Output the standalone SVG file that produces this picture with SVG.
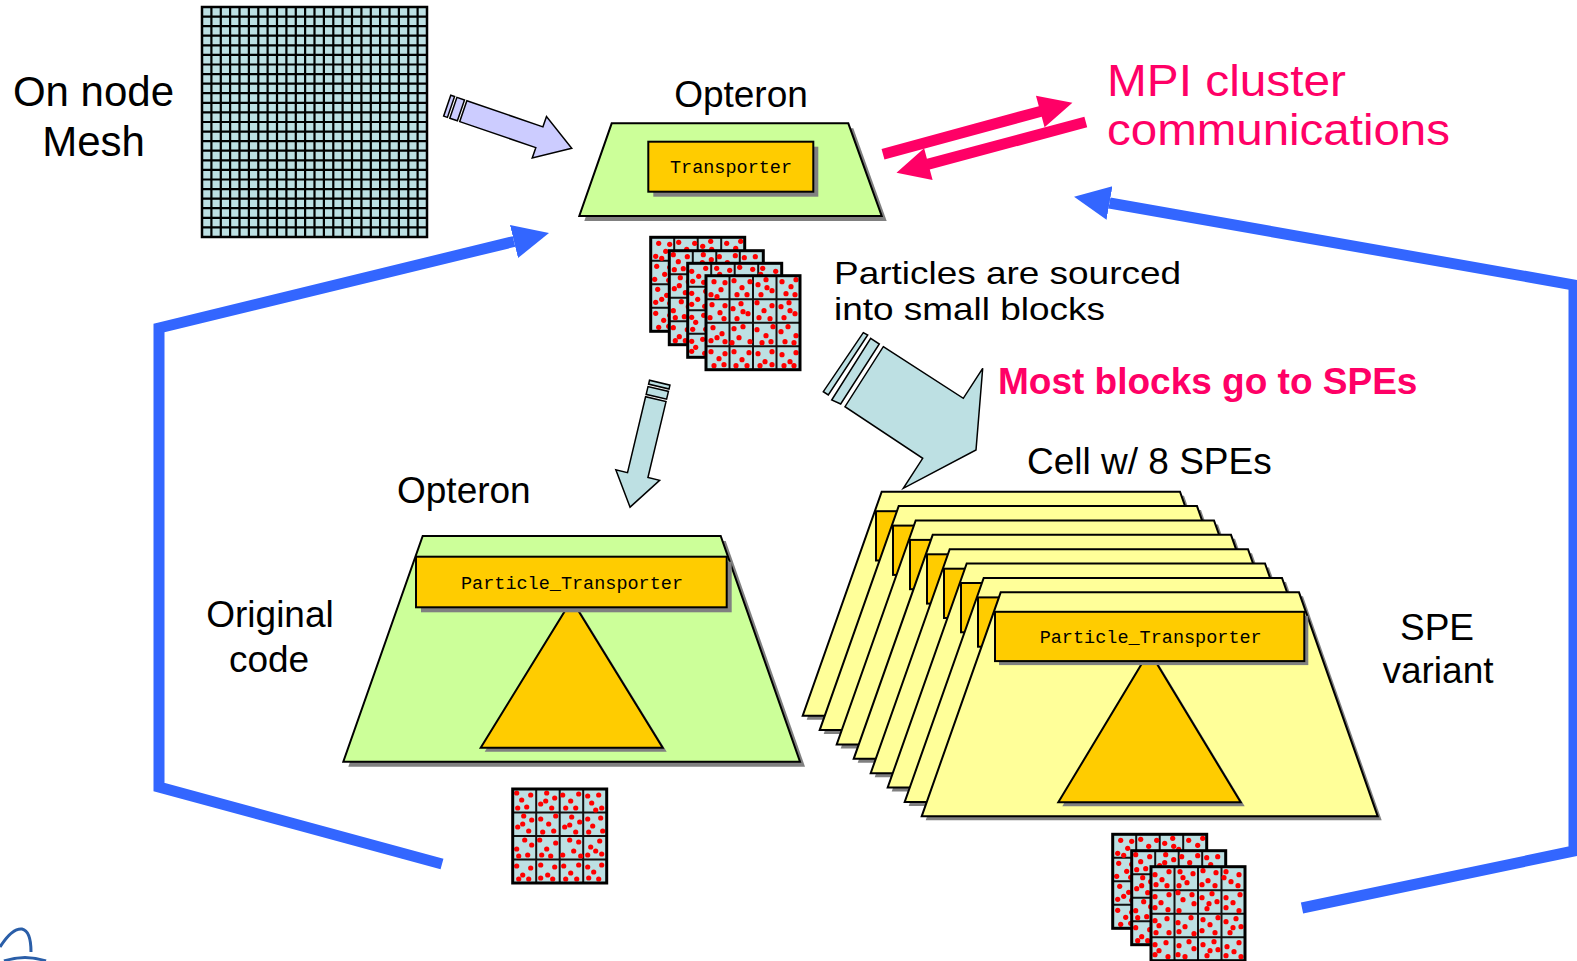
<svg xmlns="http://www.w3.org/2000/svg" xmlns:xlink="http://www.w3.org/1999/xlink" width="1577" height="961" viewBox="0 0 1577 961">
  <style>
    .lbl { font-family: "Liberation Sans", Arial, sans-serif; fill: #000; }
    .pink { font-family: "Liberation Sans", Arial, sans-serif; fill: #ff0066; }
    .mono { font-family: "Liberation Mono", "Courier New", monospace; font-size: 18.5px; fill: #000; text-anchor: middle; }
    .shadow { fill: #808080; }
    .edge { stroke: #000; stroke-width: 2; stroke-linejoin: miter; }
    .green { fill: #ccff99; }
    .yellow { fill: #ffff99; }
    .orange { fill: #ffcc00; }
    .cyan { fill: #bde0e3; }
    .loop { fill: none; stroke: #3366ff; stroke-width: 11; stroke-linejoin: miter; stroke-miterlimit: 10; }
    .fat { stroke: #000; stroke-width: 1.5; stroke-linejoin: miter; }
    .d circle { fill: #ff0000; }
  </style>
  <defs>
    <marker id="bluehead" markerUnits="userSpaceOnUse" markerWidth="40" markerHeight="40" viewBox="0 -20 40 40" refX="0" refY="0" orient="auto">
      <path d="M0,-17 L36,0 L0,17 z" fill="#3366ff"/>
    </marker>

    <!-- one 4x4 block of particles -->
    <g id="pblk">
      <rect width="94" height="94" class="cyan"/>
      <path d="M23.5,0V94M47,0V94M70.5,0V94M0,23.5H94M0,47H94M0,70.5H94" stroke="#111" stroke-width="2" fill="none"/>
      <g class="d">
        <circle cx="8" cy="6" r="2.6"/><circle cx="15" cy="14" r="2.6"/><circle cx="5" cy="19" r="2.6"/><circle cx="19" cy="7" r="2.6"/><circle cx="11" cy="21" r="2.6"/>
        <circle cx="28" cy="5" r="2.6"/><circle cx="36" cy="12" r="2.6"/><circle cx="44" cy="6" r="2.6"/><circle cx="31" cy="19" r="2.6"/><circle cx="41" cy="19" r="2.6"/>
        <circle cx="52" cy="9" r="2.6"/><circle cx="60" cy="4" r="2.6"/><circle cx="66" cy="15" r="2.6"/><circle cx="55" cy="19" r="2.6"/><circle cx="61" cy="12" r="2.6"/>
        <circle cx="76" cy="6" r="2.6"/><circle cx="85" cy="11" r="2.6"/><circle cx="90" cy="4" r="2.6"/><circle cx="80" cy="18" r="2.6"/><circle cx="89" cy="19" r="2.6"/>
        <circle cx="6" cy="29" r="2.6"/><circle cx="14" cy="37" r="2.6"/><circle cx="4" cy="42" r="2.6"/><circle cx="19" cy="30" r="2.6"/><circle cx="18" cy="43" r="2.6"/>
        <circle cx="27" cy="33" r="2.6"/><circle cx="35" cy="28" r="2.6"/><circle cx="42" cy="38" r="2.6"/><circle cx="31" cy="43" r="2.6"/><circle cx="37" cy="36" r="2.6"/>
        <circle cx="51" cy="27" r="2.6"/><circle cx="58" cy="35" r="2.6"/><circle cx="66" cy="30" r="2.6"/><circle cx="53" cy="42" r="2.6"/><circle cx="64" cy="43" r="2.6"/>
        <circle cx="75" cy="31" r="2.6"/><circle cx="83" cy="27" r="2.6"/><circle cx="89" cy="38" r="2.6"/><circle cx="78" cy="42" r="2.6"/><circle cx="84" cy="35" r="2.6"/>
        <circle cx="7" cy="52" r="2.6"/><circle cx="16" cy="58" r="2.6"/><circle cx="5" cy="65" r="2.6"/><circle cx="19" cy="66" r="2.6"/><circle cx="11" cy="62" r="2.6"/>
        <circle cx="28" cy="53" r="2.6"/><circle cx="37" cy="51" r="2.6"/><circle cx="33" cy="62" r="2.6"/><circle cx="44" cy="66" r="2.6"/><circle cx="26" cy="67" r="2.6"/>
        <circle cx="51" cy="54" r="2.6"/><circle cx="60" cy="60" r="2.6"/><circle cx="67" cy="51" r="2.6"/><circle cx="56" cy="67" r="2.6"/><circle cx="65" cy="66" r="2.6"/>
        <circle cx="75" cy="56" r="2.6"/><circle cx="82" cy="51" r="2.6"/><circle cx="90" cy="60" r="2.6"/><circle cx="79" cy="66" r="2.6"/><circle cx="88" cy="67" r="2.6"/>
        <circle cx="5" cy="76" r="2.6"/><circle cx="13" cy="83" r="2.6"/><circle cx="8" cy="90" r="2.6"/><circle cx="19" cy="78" r="2.6"/><circle cx="18" cy="89" r="2.6"/>
        <circle cx="28" cy="76" r="2.6"/><circle cx="36" cy="84" r="2.6"/><circle cx="43" cy="77" r="2.6"/><circle cx="30" cy="90" r="2.6"/><circle cx="41" cy="90" r="2.6"/>
        <circle cx="52" cy="78" r="2.6"/><circle cx="59" cy="86" r="2.6"/><circle cx="66" cy="76" r="2.6"/><circle cx="54" cy="90" r="2.6"/><circle cx="66" cy="89" r="2.6"/>
        <circle cx="76" cy="79" r="2.6"/><circle cx="84" cy="86" r="2.6"/><circle cx="90" cy="77" r="2.6"/><circle cx="78" cy="90" r="2.6"/><circle cx="88" cy="90" r="2.6"/>
      </g>
      <rect width="94" height="94" fill="none" stroke="#000" stroke-width="3"/>
    </g>

    <!-- one SPE card of the Cell stack, origin at the top-left corner -->
    <g id="spe">
      <polygon class="shadow" points="4,4 302.3,4 381,228 -75,228"/>
      <polygon class="yellow edge" points="0,0 298.3,0 377,224 -79,224"/>
      <polygon class="shadow" points="152.6,63 244,214 61.6,214"/>
      <polygon class="orange edge" points="148.6,59 240,210 57.6,210"/>
      <rect class="shadow" x="-1.7" y="23.5" width="309.3" height="49.3"/>
      <rect class="orange edge" x="-5.7" y="19.5" width="309.3" height="49.3"/>
      <text class="mono" x="150" y="50.5">Particle_Transporter</text>
    </g>
  </defs>

  <rect width="1577" height="961" fill="#fff"/>

  <!-- mesh -->
  <g id="mesh">
    <rect x="202" y="7" width="225" height="230" class="cyan"/>
    <path fill="none" stroke="#000" stroke-width="2.2" d="M211.4,7V237M220.8,7V237M230.1,7V237M239.5,7V237M248.9,7V237M258.3,7V237M267.6,7V237M277,7V237M286.4,7V237M295.8,7V237M305.1,7V237M314.5,7V237M323.9,7V237M333.3,7V237M342.6,7V237M352,7V237M361.4,7V237M370.8,7V237M380.1,7V237M389.5,7V237M398.9,7V237M408.3,7V237M417.6,7V237M202,16.6H427M202,26.2H427M202,35.7H427M202,45.3H427M202,54.9H427M202,64.5H427M202,74.1H427M202,83.7H427M202,93.2H427M202,102.8H427M202,112.4H427M202,122H427M202,131.6H427M202,141.2H427M202,150.7H427M202,160.3H427M202,169.9H427M202,179.5H427M202,189.1H427M202,198.7H427M202,208.2H427M202,217.8H427M202,227.4H427"/>
    <rect x="202" y="7" width="225" height="230" fill="none" stroke="#000" stroke-width="2.5"/>
    <text class="lbl" x="93.5" y="106" font-size="42" text-anchor="middle">On node</text>
    <text class="lbl" x="93.5" y="156" font-size="42" text-anchor="middle">Mesh</text>
  </g>

  <!-- top Opteron -->
  <g id="opteron-top">
    <polygon class="shadow" points="616.7,128.3 853.3,128.3 886.7,221 584.3,221"/>
    <polygon class="green edge" points="611.7,123.3 848.3,123.3 881.7,216 579.3,216"/>
    <rect class="shadow" x="653.3" y="146.7" width="165" height="50"/>
    <rect class="orange edge" x="648.3" y="141.7" width="165" height="50"/>
    <text class="mono" x="731" y="173">Transporter</text>
    <text class="lbl" x="741" y="107" font-size="37" text-anchor="middle">Opteron</text>
  </g>

  <!-- particle blocks leaving the top Opteron -->
  <g id="blocks-top">
    <use xlink:href="#pblk" transform="translate(650.7,237.3)"/>
    <use xlink:href="#pblk" transform="translate(763.3,250.7) scale(-1,1)"/>
    <use xlink:href="#pblk" transform="translate(781.7,263.3) rotate(90)"/>
    <use xlink:href="#pblk" transform="translate(706,275.7)"/>
  </g>

  <!-- bottom-left Opteron: original code -->
  <g id="opteron-orig">
    <polygon class="shadow" points="427.7,541 725.7,541 805,766.7 348.3,766.7"/>
    <polygon class="green edge" points="422.7,536 720.7,536 800,761.7 343.3,761.7"/>
    <polygon class="shadow" points="575.7,604 666.7,751.7 484.7,751.7"/>
    <polygon class="orange edge" points="571.7,600 662.7,747.7 480.7,747.7"/>
    <rect class="shadow" x="421" y="561.7" width="310.7" height="50.6"/>
    <rect class="orange edge" x="416" y="556.7" width="310.7" height="50.6"/>
    <text class="mono" x="572" y="588.5">Particle_Transporter</text>
    <text class="lbl" x="397" y="503" font-size="37">Opteron</text>
    <text class="lbl" x="270" y="627" font-size="37" text-anchor="middle">Original</text>
    <text class="lbl" x="269" y="672" font-size="37" text-anchor="middle">code</text>
  </g>

  <g id="blocks-orig">
    <use xlink:href="#pblk" transform="translate(606.7,789) scale(-1,1)"/>
  </g>

  <!-- Cell with eight SPEs -->
  <g id="cell">
    <use xlink:href="#spe" transform="translate(881.7,491.7)"/>
    <use xlink:href="#spe" transform="translate(898.7,506.1)"/>
    <use xlink:href="#spe" transform="translate(915.7,520.4)"/>
    <use xlink:href="#spe" transform="translate(932.7,534.8)"/>
    <use xlink:href="#spe" transform="translate(949.7,549.2)"/>
    <use xlink:href="#spe" transform="translate(966.7,563.5)"/>
    <use xlink:href="#spe" transform="translate(983.7,577.9)"/>
    <use xlink:href="#spe" transform="translate(1000.7,592.3)"/>
    <text class="lbl" x="1027" y="474" font-size="37">Cell w/ 8 SPEs</text>
    <text class="lbl" x="1437" y="640" font-size="37" text-anchor="middle">SPE</text>
    <text class="lbl" x="1438" y="683" font-size="37" text-anchor="middle">variant</text>
  </g>

  <g id="blocks-spe">
    <use xlink:href="#pblk" transform="translate(1112.7,834.3)"/>
    <use xlink:href="#pblk" transform="translate(1225.7,850.7) scale(-1,1)"/>
    <use xlink:href="#pblk" transform="translate(1245,866.7) rotate(90)"/>
  </g>

  <!-- captions -->
  <g id="captions">
    <text class="pink" x="1107" y="96" font-size="43.5" textLength="239" lengthAdjust="spacingAndGlyphs">MPI cluster</text>
    <text class="pink" x="1107" y="145" font-size="43.5" textLength="343" lengthAdjust="spacingAndGlyphs">communications</text>
    <text class="lbl" x="834" y="284" font-size="32" textLength="347" lengthAdjust="spacingAndGlyphs">Particles are sourced</text>
    <text class="lbl" x="834" y="320" font-size="32" textLength="271" lengthAdjust="spacingAndGlyphs">into small blocks</text>
    <text class="pink" x="998" y="394" font-size="37" font-weight="bold">Most blocks go to SPEs</text>
  </g>

  <!-- connectors -->
  <g id="connectors">
    <!-- feedback loops back into the top Opteron -->
    <polyline class="loop" points="442,864 159,787 159,328 514,241.5" marker-end="url(#bluehead)"/>
    <polyline class="loop" points="1302,908 1574,851 1574,285 1109.5,203" marker-end="url(#bluehead)"/>

    <!-- MPI traffic -->
    <polygon fill="#ff0066" transform="translate(883,154.3) rotate(-15.24)" points="0,-5.5 163,-5.5 163,-16.4 196.3,0 163,16.4 163,5.5 0,5.5"/>
    <polygon fill="#ff0066" transform="translate(1085.8,122) rotate(165)" points="0,-5.5 163,-5.5 163,-16.4 196,0 163,16.4 163,5.5 0,5.5"/>

    <!-- mesh into the Opteron -->
    <g transform="translate(463.3,111.2) rotate(18.9)" fill="#ccccff" class="fat">
      <polygon points="0,-11 80.4,-11 80.4,-22 114.6,0 80.4,22 80.4,11 0,11"/>
      <rect x="-10.5" y="-11" width="8" height="22"/>
      <rect x="-17" y="-11" width="4" height="22"/>
    </g>

    <!-- blocks down to the original-code Opteron -->
    <g transform="translate(655.8,399.2) rotate(103.4)" fill="#bde0e3" class="fat">
      <polygon points="0,-10.5 78,-10.5 78,-22.5 111,0 78,22.5 78,10.5 0,10.5"/>
      <rect x="-10.5" y="-10.5" width="8" height="21"/>
      <rect x="-17" y="-10.5" width="4" height="21"/>
    </g>

    <!-- most blocks to the SPEs -->
    <g fill="#bde0e3" class="fat">
      <polygon points="883.3,346.7 963.3,398.3 982.7,368.3 976,450 903.3,488.3 922.7,458.3 845,406.7"/>
      <polygon points="870.7,338.3 879.3,344 840.7,404 831.7,400"/>
      <polygon points="863.3,332.7 867.7,335 828.3,395 823.3,391.7"/>
    </g>
  </g>

  <!-- corner emblem -->
  <g id="emblem" fill="none" stroke="#2a5ea8" stroke-width="3">
    <path d="M0,947 Q12,928 22,929 Q31,931 31,952"/>
    <path d="M4,961 Q25,954 46,961"/>
  </g>
</svg>
